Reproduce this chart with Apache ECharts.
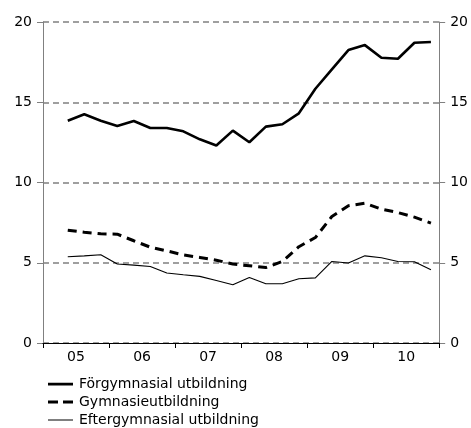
<!DOCTYPE html>
<html>
<head>
<meta charset="utf-8">
<script src="https://cdn.jsdelivr.net/npm/echarts@6/dist/echarts.min.js"></script>
<style>
html,body{margin:0;padding:0;background:#fff;}
#c{width:471px;height:428px;}
</style>
</head>
<body>
<div id="c"></div>
<script>
// Year categories (axis labels)
const years = ['05', '06', '07', '08', '09', '10'];
// Quarterly categories (2005 Q1 .. 2010 Q4)
const quarters = [];
for (const y of ['2005','2006','2007','2008','2009','2010']) for (const q of [1,2,3,4]) quarters.push(y + 'K' + q);
// Series values, Q2 2005 .. Q4 2010
const forgymnasial = [13.85,14.25,13.85,13.52,13.83,13.40,13.40,13.19,12.69,12.30,13.23,12.51,13.48,13.63,14.31,15.84,17.05,18.25,18.56,17.77,17.71,18.71,18.75];
const gymnasie = [7.03,6.90,6.80,6.78,6.37,5.97,5.74,5.49,5.33,5.16,4.92,4.81,4.70,5.08,6.00,6.57,7.88,8.55,8.71,8.34,8.13,7.84,7.47];
const eftergymnasial = [5.37,5.43,5.50,4.92,4.85,4.77,4.36,4.25,4.15,3.89,3.63,4.08,3.69,3.69,4.00,4.06,5.08,4.98,5.43,5.31,5.08,5.06,4.56];
const names = ['Förgymnasial utbildning', 'Gymnasieutbildning', 'Eftergymnasial utbildning'];
const yTicks = { min: 0, max: 20, interval: 5 };

const pad = arr => [null].concat(arr);
const font = 'DejaVu Sans, Verdana, sans-serif';

// Legend line icons (25 x 18 box; corner points fix the box)
const box = 'M0,0L0,0ZM25,18L25,18Z';
const icons = [
  'path://' + box + 'M0,7.7h25v2.7h-25Z',
  'path://' + box + 'M0,7.5h10v3h-10ZM15,7.5h10v3h-10Z',
  'path://' + box + 'M0,8.5h25v1h-25Z'
];

const chart = echarts.init(document.getElementById('c'), null, { renderer: 'canvas' });
chart.setOption({
  animation: false,
  backgroundColor: '#fff',
  grid: { left: 43, right: 31, top: 22, bottom: 85, containLabel: false },
  legend: {
    orient: 'vertical',
    left: 48,
    top: 375,
    height: 80,
    padding: 0,
    itemWidth: 25,
    itemHeight: 18,
    itemGap: 0,
    itemStyle: { color: '#000', borderWidth: 0 },
    data: names.map((n, i) => ({ name: n, icon: icons[i] })),
    textStyle: { fontFamily: font, fontSize: 14, color: '#000', padding: [0, 0, 0, 1] }
  },
  xAxis: [
    {
      type: 'category',
      data: years,
      boundaryGap: true,
      z: 5,
      axisLine: { lineStyle: { color: '#000', width: 1.2 } },
      axisTick: { show: true, length: 5, alignWithLabel: false, lineStyle: { color: '#000' } },
      axisLabel: { fontFamily: font, fontSize: 14, color: '#000', margin: 7 },
      splitLine: { show: false }
    },
    {
      type: 'category',
      data: quarters,
      boundaryGap: true,
      show: false
    }
  ],
  yAxis: [
    {
      type: 'value', position: 'left', min: yTicks.min, max: yTicks.max, interval: yTicks.interval,
      axisLine: { show: true, lineStyle: { color: '#808080', width: 1 } },
      axisTick: { show: true, length: 6, lineStyle: { color: '#808080' } },
      axisLabel: { fontFamily: font, fontSize: 14, color: '#000', margin: 11 },
      splitLine: { show: true, lineStyle: { color: '#808080', type: [6, 4], width: 1.5 } }
    },
    {
      type: 'value', position: 'right', min: yTicks.min, max: yTicks.max, interval: yTicks.interval,
      axisLine: { show: true, lineStyle: { color: '#808080', width: 1 } },
      axisTick: { show: true, length: 6, lineStyle: { color: '#808080' } },
      axisLabel: { fontFamily: font, fontSize: 14, color: '#000', margin: 11 },
      splitLine: { show: false }
    }
  ],
  series: [
    {
      name: names[0], type: 'line', xAxisIndex: 1, yAxisIndex: 0,
      data: pad(forgymnasial), symbol: 'none', connectNulls: false,
      lineStyle: { color: '#000', width: 2.6, type: 'solid' },
      itemStyle: { color: '#000' }
    },
    {
      name: names[1], type: 'line', xAxisIndex: 1, yAxisIndex: 0,
      data: pad(gymnasie), symbol: 'none',
      lineStyle: { color: '#000', width: 3, type: [9, 6] },
      itemStyle: { color: '#000' }
    },
    {
      name: names[2], type: 'line', xAxisIndex: 1, yAxisIndex: 0,
      data: pad(eftergymnasial), symbol: 'none',
      lineStyle: { color: '#000', width: 1.1, type: 'solid' },
      itemStyle: { color: '#000' }
    }
  ]
});
</script>
</body>
</html>
